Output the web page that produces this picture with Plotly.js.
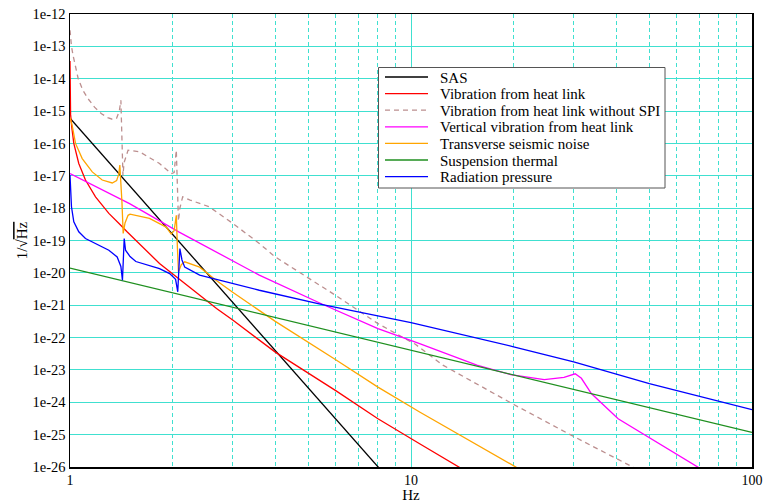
<!DOCTYPE html>
<html>
<head>
<meta charset="utf-8">
<script src="https://cdn.plot.ly/plotly-3.0.1.min.js"></script>
<style>html,body{margin:0;padding:0;background:#fff;}</style>
</head>
<body>
<div id="chart" style="width:766px;height:503px;"></div>
<script>
// ---- data ----
var seriesNames = ["SAS", "Vibration from heat link", "Vibration from heat link without SPI",
  "Vertical vibration from heat link", "Transverse seismic noise", "Suspension thermal", "Radiation pressure"];

var sasF = [1, 2, 4, 8, 10];
var sasV = [6.0e-16, 1.55e-19, 3.98e-23, 1.02e-26, 7.08e-28];

var heatF = [1.000, 1.002, 1.004, 1.012, 1.026, 1.061, 1.11, 1.188, 1.30, 1.39, 1.47, 1.83, 2.24, 2.69, 3.0, 4.0, 6.0, 8.0, 10.6, 13.8, 16];
var heatV = [3.55e-14, 4.0e-15, 7.9e-16, 3.16e-16, 1.0e-16, 2.4e-17, 7.4e-18, 2.24e-18, 6.9e-19, 3.4e-19, 1.86e-19, 1.95e-20, 3.55e-21, 7.9e-22, 3.47e-22, 3.55e-23, 2.34e-24, 3.09e-25, 5.25e-26, 1.0e-26, 3.98e-27];

var noSpiF = [1.000, 1.01, 1.022, 1.04, 1.057, 1.09, 1.13, 1.18, 1.237, 1.29, 1.33, 1.37, 1.395, 1.41, 1.42, 1.43, 1.44, 1.48, 1.6, 1.83, 1.98, 2.02, 2.05, 2.065, 2.08, 2.1, 2.14, 2.25, 2.56, 3.0, 3.59, 4.0, 6.0, 8.0, 10.3, 12.4, 20.2, 30.3, 44.7, 50];
var noSpiV = [3.16e-13, 1.0e-13, 5.0e-14, 2.0e-14, 1.0e-14, 4.47e-15, 2.4e-15, 1.32e-15, 8.3e-16, 6.3e-16, 5.6e-16, 6.0e-16, 1.0e-15, 2.14e-15, 2.5e-16, 1.0e-17, 2.5e-17, 6.2e-17, 5.5e-17, 2.4e-17, 1.17e-17, 1.26e-17, 6.2e-17, 6.3e-18, 4.0e-19, 1.0e-18, 2.24e-18, 1.78e-18, 1.1e-18, 3.4e-19, 8.1e-20, 3.1e-20, 2.04e-21, 2.7e-22, 6.2e-23, 1.41e-23, 8.1e-25, 8.3e-26, 1.0e-26, 5.0e-27];

var vertF = [1.0, 1.22, 1.495, 2.09, 3.59, 5.5, 8.0, 10.6, 12.4, 15.6, 19.6, 24.6, 28.1, 30.3, 31.6, 33.8, 40.5, 50.9, 70, 80];
var vertV = [1.17e-17, 4.1e-18, 1.38e-18, 1.82e-19, 8.5e-21, 1.07e-21, 1.9e-22, 6.5e-23, 3.55e-23, 1.41e-23, 7.2e-24, 5.0e-24, 5.9e-24, 7.6e-24, 5.5e-24, 1.86e-24, 3.1e-25, 7.2e-26, 1.0e-26, 4.0e-27];

var seisF = [1.0, 1.015, 1.038, 1.086, 1.162, 1.243, 1.33, 1.37, 1.39, 1.40, 1.42, 1.432, 1.45, 1.48, 1.50, 1.71, 1.915, 1.98, 2.02, 2.05, 2.065, 2.08, 2.12, 2.17, 2.40, 2.68, 3.0, 3.36, 4.0, 6.0, 8.0, 10.6, 20.3, 23];
var seisV = [6.3e-16, 3.55e-16, 1.0e-16, 3.4e-17, 1.32e-17, 7.4e-18, 6.0e-18, 7.1e-18, 1.12e-17, 2.14e-17, 1.58e-18, 1.66e-19, 3.5e-19, 6.0e-19, 6.5e-19, 4.8e-19, 2.6e-19, 1.58e-19, 2.0e-19, 6.0e-19, 6.3e-20, 1.07e-20, 1.78e-20, 2.2e-20, 1.5e-20, 5.9e-21, 2.5e-21, 1.12e-21, 3.16e-22, 2.09e-23, 2.95e-24, 5.0e-25, 1.0e-26, 4.0e-27];

var thermF = [1, 10, 100];
var thermV = [1.41e-20, 4.1e-23, 1.17e-25];

var radF = [1.0, 1.003, 1.010, 1.026, 1.061, 1.110, 1.188, 1.300, 1.375, 1.41, 1.425, 1.434, 1.442, 1.455, 1.5, 1.56, 1.83, 1.96, 2.04, 2.07, 2.09, 2.10, 2.13, 2.17, 2.40, 3.59, 5.5, 10, 20, 30, 50, 100];
var radV = [1.05e-17, 4.6e-18, 1.1e-18, 3.8e-19, 1.86e-19, 1.15e-19, 8.1e-20, 5.0e-20, 3.1e-20, 1.58e-20, 5.9e-21, 3.2e-20, 1.15e-19, 5.0e-20, 3.2e-20, 2.24e-20, 1.35e-20, 9.5e-21, 6.3e-21, 2.6e-21, 1.6e-20, 5.6e-20, 2.5e-20, 1.5e-20, 8.5e-21, 2.9e-21, 1.05e-21, 2.9e-22, 5.2e-23, 1.78e-23, 3.8e-24, 5.9e-25];

var xTickVals = [1, 10, 100];
var xTickText = ["1", "10", "100"];
var xMinorVals = [2, 3, 4, 5, 6, 7, 8, 9, 20, 30, 40, 50, 60, 70, 80, 90];
var yTickVals = [1e-12, 1e-13, 1e-14, 1e-15, 1e-16, 1e-17, 1e-18, 1e-19, 1e-20, 1e-21, 1e-22, 1e-23, 1e-24, 1e-25, 1e-26];
var yTickText = ["1e-12", "1e-13", "1e-14", "1e-15", "1e-16", "1e-17", "1e-18", "1e-19", "1e-20", "1e-21", "1e-22", "1e-23", "1e-24", "1e-25", "1e-26"];

// ---- styles ----
var colors = ["#000000", "#ff0000", "#bc8f8f", "#ff00ff", "#ffa500", "#1f8f1f", "#0000ff"];
var dashes = ["solid", "solid", "5px,4px", "solid", "solid", "solid", "solid"];
var xs = [sasF, heatF, noSpiF, vertF, seisF, thermF, radF];
var ys = [sasV, heatV, noSpiV, vertV, seisV, thermV, radV];

var traces = [];
for (var i = 0; i < xs.length; i++) {
  traces.push({
    type: "scatter", mode: "lines", name: seriesNames[i],
    x: xs[i], y: ys[i], showlegend: false,
    line: {color: colors[i], width: 1.3, dash: dashes[i]},
    hoverinfo: "skip"
  });
}

var fontFam = "Liberation Serif, Times New Roman, DejaVu Serif, serif";
var grid = "#40e0d0";

// plot area in pixels (from margins)
var W = 766, H = 503, ML = 70, MR = 14, MT = 14, MB = 36;
function px2x(px) { return (px - ML) / (W - ML - MR); }
function py2y(py) { return (H - MB - py) / (H - MT - MB); }

// legend box drawn as a framed panel
var shapes = [{
  type: "rect", xref: "paper", yref: "paper", layer: "above",
  x0: px2x(378.5), x1: px2x(665), y0: py2y(67.5), y1: py2y(188),
  line: {color: "#555", width: 1}, fillcolor: "#ffffff"
}];
var annotations = [];
for (var k = 0; k < seriesNames.length; k++) {
  var rowY = 77 + 16.6 * k;
  shapes.push({
    type: "line", xref: "paper", yref: "paper", layer: "above",
    x0: px2x(385), x1: px2x(428), y0: py2y(rowY), y1: py2y(rowY),
    line: {color: colors[k], width: 1.3, dash: dashes[k]}
  });
  annotations.push({
    xref: "paper", yref: "paper", x: px2x(438), y: py2y(rowY + 0.5),
    xanchor: "left", yanchor: "middle", showarrow: false,
    text: seriesNames[k], font: {family: fontFam, size: 15, color: "#000"}
  });
}

var layout = {
  width: W, height: H,
  margin: {l: ML, r: MR, t: MT, b: MB, pad: 0},
  paper_bgcolor: "#ffffff", plot_bgcolor: "#ffffff",
  font: {family: fontFam, size: 14, color: "#000"},
  showlegend: false,
  shapes: shapes,
  annotations: annotations,
  xaxis: {
    type: "log", range: [0, 2],
    tickmode: "array", tickvals: xTickVals, ticktext: xTickText,
    showgrid: true, gridcolor: grid, gridwidth: 1,
    minor: {tickmode: "array", tickvals: xMinorVals, showgrid: true, gridcolor: grid, griddash: "4px,3px", gridwidth: 1, ticks: ""},
    showline: true, linecolor: "#000", linewidth: 1.5, mirror: true,
    ticks: "", zeroline: false,
    tickfont: {family: fontFam, size: 14},
    title: {text: "Hz", font: {family: fontFam, size: 15}, standoff: 2}
  },
  yaxis: {
    type: "log", range: [-26, -12],
    tickmode: "array", tickvals: yTickVals, ticktext: yTickText,
    showgrid: true, gridcolor: grid, gridwidth: 1,
    showline: true, linecolor: "#000", linewidth: 1.5, mirror: true,
    ticks: "", zeroline: false,
    tickfont: {family: fontFam, size: 14.5},
    title: {text: '1/\u221A<span style="text-decoration:overline">Hz</span>', font: {family: fontFam, size: 15}, standoff: 1}
  }
};

Plotly.newPlot("chart", traces, layout, {staticPlot: true, displayModeBar: false});
</script>
</body>
</html>
